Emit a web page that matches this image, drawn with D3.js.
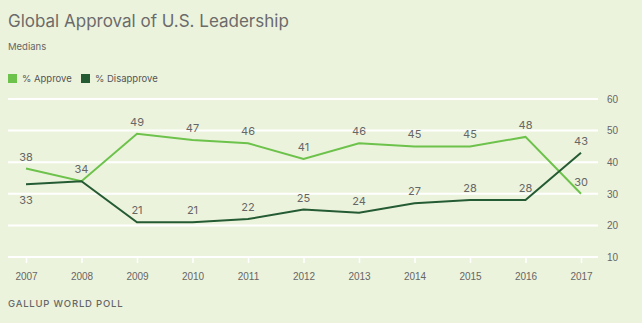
<!DOCTYPE html>
<html>
<head>
  <script src="https://d3js.org/d3.v7.min.js"></script>
  <style>
    body { margin: 0; background: #ecf3dd; }
    svg { display: block; font-family: Inter, "Noto Sans", sans-serif; }
    .grid line { stroke: #fff; stroke-width: 2; }
    .axis text { font-size: 10px; fill: #666; }
    .axis path { display: none; }
    .lbl { font-size: 11px; fill: #666; text-anchor: middle; }
  </style>
</head>
<body>
  <svg class="chart"></svg>
  <script>
    var years = [2007, 2008, 2009, 2010, 2011, 2012, 2013, 2014, 2015, 2016, 2017];
    var approve = [38, 34, 49, 47, 46, 41, 46, 45, 45, 48, 30];
    var disapprove = [33, 34, 21, 21, 22, 25, 24, 27, 28, 28, 43];
    var yTicks = [10, 20, 30, 40, 50, 60];

    var W = 642, H = 323;
    var svg = d3.select('.chart').attr('width', W).attr('height', H);

    var x = d3.scalePoint().domain(years).range([26, 581]);
    var y = d3.scaleLinear().domain([10, 60]).range([257, 99]);

    // title
    svg.append('text').attr('x', 8).attr('y', 27)
      .style('font-size', '17px').style('fill', '#6b6b6b').text('Global Approval of U.S. Leadership');
    svg.append('text').attr('x', 8).attr('y', 50)
      .style('font-size', '9.5px').style('fill', '#666').text('Medians');

    // legend
    var legend = [['% Approve', '#6cc24a'], ['% Disapprove', '#245b33']];
    var lx = [8, 81];
    legend.forEach(function (d, i) {
      svg.append('rect').attr('x', lx[i]).attr('y', 74).attr('width', 9).attr('height', 9).attr('fill', d[1]);
      svg.append('text').attr('x', lx[i] + 14).attr('y', 82)
        .style('font-size', '9.5px').style('fill', '#555').text(d[0]);
    });

    // grid
    svg.append('g').attr('class', 'grid')
      .selectAll('line').data(yTicks).enter().append('line')
      .attr('x1', 8).attr('x2', 598)
      .attr('y1', function (d) { return y(d); }).attr('y2', function (d) { return y(d); });

    svg.append('g').attr('class', 'axis')
      .attr('transform', 'translate(602,0)')
      .call(d3.axisRight(y).tickValues(yTicks).tickSize(0).tickPadding(5));

    var xa = svg.append('g').attr('class', 'axis')
      .attr('transform', 'translate(0,' + y(10) + ')')
      .call(d3.axisBottom(x).tickSize(6).tickPadding(10).tickFormat(d3.format('d')));
    xa.selectAll('.tick line').attr('stroke', '#fff').attr('stroke-width', 1.5);

    // lines
    var line = d3.line()
      .x(function (d, i) { return x(years[i]); })
      .y(function (d) { return y(d); });

    svg.append('path').datum(approve).attr('d', line)
      .attr('fill', 'none').attr('stroke', '#6cc24a').attr('stroke-width', 2);
    svg.append('path').datum(disapprove).attr('d', line)
      .attr('fill', 'none').attr('stroke', '#245b33').attr('stroke-width', 2);

    // labels
    svg.selectAll('.la').data(approve).enter().append('text')
      .attr('class', 'lbl')
      .attr('x', function (d, i) { return x(years[i]); })
      .attr('y', function (d) { return y(d) - 8; })
      .text(function (d) { return d; });

    svg.selectAll('.ld').data(disapprove).enter()
      .filter(function (d, i) { return i !== 1; })
      .append('text')
      .attr('class', 'lbl')
      .attr('x', function (d, i) { return x(years[i === 0 ? 0 : i + 1]); })
      .attr('y', function (d, i) { return i === 0 ? y(d) + 20 : y(d) - 8; })
      .text(function (d) { return d; });

    svg.append('text').attr('x', 8).attr('y', 307)
      .style('font-size', '9.5px').style('fill', '#666').style('letter-spacing', '0.8px')
      .style('font-weight', '500').text('GALLUP WORLD POLL');
  </script>
</body>
</html>
